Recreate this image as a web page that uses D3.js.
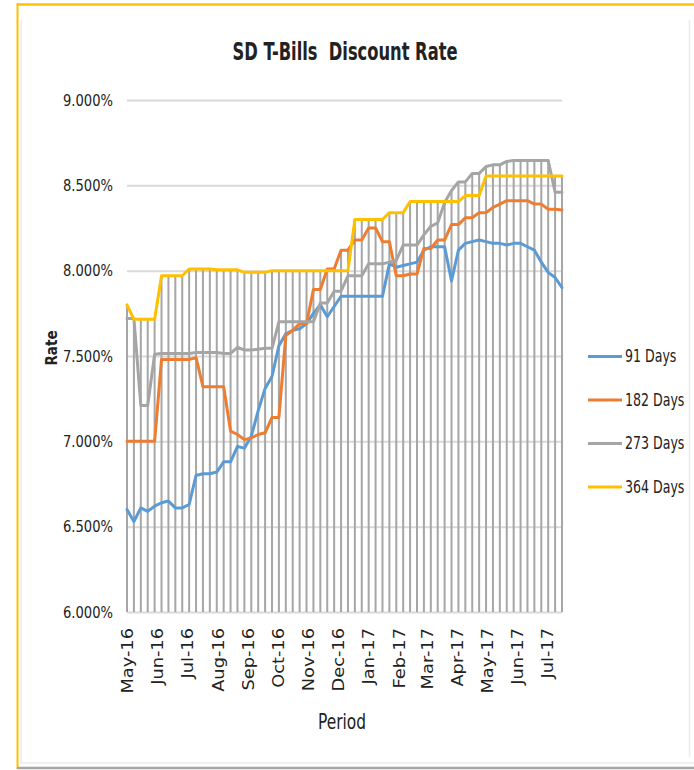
<!DOCTYPE html>
<html>
<head>
<meta charset="utf-8">
<script src="https://cdn.jsdelivr.net/npm/d3@7"></script>
<style>
  body { margin: 0; background: #fff; }
  svg { display: block; }
  text { font-family: "Liberation Sans Narrow", "DejaVu Sans Condensed", "Liberation Sans", Arial, sans-serif; fill: #222; }
</style>
</head>
<body>
<script>
// weekly auction dates
var dates = [
	'2016-05-02', '2016-05-09', '2016-05-16', '2016-05-23', '2016-05-30', '2016-06-06', '2016-06-13', '2016-06-20',
	'2016-06-27', '2016-07-04', '2016-07-11', '2016-07-18', '2016-07-25', '2016-08-01', '2016-08-08', '2016-08-15',
	'2016-08-22', '2016-08-29', '2016-09-05', '2016-09-12', '2016-09-19', '2016-09-26', '2016-10-03', '2016-10-10',
	'2016-10-17', '2016-10-24', '2016-10-31', '2016-11-07', '2016-11-14', '2016-11-21', '2016-11-28', '2016-12-05',
	'2016-12-12', '2016-12-19', '2016-12-26', '2017-01-02', '2017-01-09', '2017-01-16', '2017-01-23', '2017-01-30',
	'2017-02-06', '2017-02-13', '2017-02-20', '2017-02-27', '2017-03-06', '2017-03-13', '2017-03-20', '2017-03-27',
	'2017-04-03', '2017-04-10', '2017-04-17', '2017-04-24', '2017-05-01', '2017-05-08', '2017-05-15', '2017-05-22',
	'2017-05-29', '2017-06-05', '2017-06-12', '2017-06-19', '2017-06-26', '2017-07-03', '2017-07-10', '2017-07-17'
];

var days91 = [
	6.60, 6.53, 6.61, 6.59, 6.62, 6.64, 6.65, 6.61, 6.61, 6.63, 6.80, 6.81, 6.81, 6.82, 6.88, 6.88,
	6.97, 6.96, 7.03, 7.18, 7.31, 7.38, 7.56, 7.63, 7.65, 7.66, 7.69, 7.75, 7.80, 7.73, 7.79, 7.85,
	7.85, 7.85, 7.85, 7.85, 7.85, 7.85, 8.04, 8.02, 8.03, 8.04, 8.05, 8.12, 8.14, 8.14, 8.14, 7.94,
	8.12, 8.16, 8.17, 8.18, 8.17, 8.16, 8.16, 8.15, 8.16, 8.16, 8.14, 8.12, 8.05, 7.99, 7.96, 7.90
];
var days182 = [
	7.00, 7.00, 7.00, 7.00, 7.00, 7.48, 7.48, 7.48, 7.48, 7.48, 7.49, 7.32, 7.32, 7.32, 7.32, 7.06,
	7.04, 7.01, 7.02, 7.04, 7.05, 7.14, 7.14, 7.62, 7.65, 7.69, 7.69, 7.89, 7.89, 8.01, 8.01, 8.12,
	8.12, 8.18, 8.18, 8.25, 8.25, 8.17, 8.17, 7.97, 7.97, 7.98, 7.98, 8.13, 8.13, 8.18, 8.18, 8.27,
	8.27, 8.31, 8.31, 8.34, 8.34, 8.37, 8.39, 8.41, 8.41, 8.41, 8.41, 8.39, 8.39, 8.36, 8.36, 8.355
];
var days273 = [
	7.72, 7.72, 7.21, 7.21, 7.51, 7.515, 7.515, 7.515, 7.515, 7.515, 7.52, 7.52, 7.52, 7.52, 7.515, 7.515,
	7.55, 7.535, 7.535, 7.54, 7.545, 7.545, 7.70, 7.70, 7.70, 7.70, 7.70, 7.70, 7.81, 7.81, 7.88, 7.88,
	7.97, 7.97, 7.97, 8.04, 8.04, 8.04, 8.05, 8.06, 8.15, 8.15, 8.15, 8.21, 8.26, 8.28, 8.40, 8.47,
	8.52, 8.52, 8.57, 8.57, 8.61, 8.62, 8.62, 8.64, 8.645, 8.645, 8.645, 8.645, 8.645, 8.645, 8.46, 8.46
];
var days364 = [
	7.80, 7.715, 7.715, 7.715, 7.715, 7.97, 7.97, 7.97, 7.97, 8.01, 8.01, 8.01, 8.01, 8.005, 8.005, 8.005,
	8.005, 7.99, 7.99, 7.99, 7.99, 8.00, 8.00, 8.00, 8.00, 8.00, 8.00, 8.00, 8.00, 8.00, 8.00, 8.00,
	8.00, 8.30, 8.30, 8.30, 8.30, 8.30, 8.34, 8.34, 8.34, 8.405, 8.405, 8.405, 8.405, 8.405, 8.405, 8.405,
	8.405, 8.44, 8.44, 8.44, 8.555, 8.555, 8.555, 8.555, 8.555, 8.555, 8.555, 8.555, 8.555, 8.555, 8.555, 8.555
];

var seriesNames = [ '91 Days', '182 Days', '273 Days', '364 Days' ];
var seriesColors = [ '#5B9BD5', '#ED7D31', '#A5A5A5', '#FFC000' ];

var yTicks = [ 6.0, 6.5, 7.0, 7.5, 8.0, 8.5, 9.0 ];
var monthTicks = [
	'2016-05-02', '2016-06-02', '2016-07-02', '2016-08-02', '2016-09-02', '2016-10-02', '2016-11-02', '2016-12-02',
	'2017-01-02', '2017-02-02', '2017-03-02', '2017-04-02', '2017-05-02', '2017-06-02', '2017-07-02'
];
var monthLabels = [
	'May-16', 'Jun-16', 'Jul-16', 'Aug-16', 'Sep-16', 'Oct-16', 'Nov-16', 'Dec-16',
	'Jan-17', 'Feb-17', 'Mar-17', 'Apr-17', 'May-17', 'Jun-17', 'Jul-17'
];

var width = 694, height = 770;
var plot = { left: 127, right: 562, top: 100, bottom: 612 };

var parse = d3.utcParse( '%Y-%m-%d' );
var allSeries = [ days91, days182, days273, days364 ];

var rows = dates.map( function ( d, i ) {
	return {
		date: parse( d ),
		vals: allSeries.map( function ( s ) { return s[i]; } )
	};
} );

var svg = d3.select( 'body' ).append( 'svg' )
	.attr( 'width', width )
	.attr( 'height', height );

// outer frame
svg.append( 'rect' ).attr( 'x', 0 ).attr( 'y', 0 ).attr( 'width', width ).attr( 'height', height ).attr( 'fill', '#fff' );
svg.append( 'line' ).attr( 'x1', 17 ).attr( 'x2', width ).attr( 'y1', 4.5 ).attr( 'y2', 4.5 ).attr( 'stroke', '#FFC000' ).attr( 'stroke-width', 2.5 );
svg.append( 'line' ).attr( 'x1', 17.5 ).attr( 'x2', 17.5 ).attr( 'y1', 3 ).attr( 'y2', 769 ).attr( 'stroke', '#FFC000' ).attr( 'stroke-width', 2 );
svg.append( 'line' ).attr( 'x1', 17 ).attr( 'x2', width ).attr( 'y1', 768 ).attr( 'y2', 768 ).attr( 'stroke', '#A6A6A6' ).attr( 'stroke-width', 2.5 );
svg.append( 'path' )
	.attr( 'd', 'M21,20 V763 H694 M689.5,20 V757' )
	.attr( 'fill', 'none' )
	.attr( 'stroke', '#ECECEC' )
	.attr( 'stroke-width', 1.5 );

var x = d3.scaleUtc()
	.domain( d3.extent( rows, function ( d ) { return d.date; } ) )
	.range( [ plot.left, plot.right ] );

var y = d3.scaleLinear()
	.domain( [ 6, 9 ] )
	.range( [ plot.bottom, plot.top ] );

// gridlines + y labels
var yAxis = d3.axisLeft( y )
	.tickValues( yTicks )
	.tickSize( -( plot.right - plot.left ) )
	.tickPadding( 14 )
	.tickFormat( function ( d ) { return d3.format( '.3f' )( d ) + '%'; } );

var gy = svg.append( 'g' )
	.attr( 'transform', 'translate(' + plot.left + ',0)' )
	.call( yAxis );
gy.select( '.domain' ).remove();
gy.selectAll( '.tick line' ).attr( 'stroke', '#D9D9D9' ).attr( 'stroke-width', 2 );
gy.selectAll( '.tick text' )
	.attr( 'font-size', 14 )
	.attr( 'textLength', 50 )
	.attr( 'lengthAdjust', 'spacingAndGlyphs' )
	.attr( 'transform', 'scale(1,1.15)' )
	.attr( 'fill', '#222' );

// drop lines from the highest series down to the axis
svg.append( 'g' ).selectAll( 'line' )
	.data( rows )
	.join( 'line' )
	.attr( 'x1', function ( d ) { return x( d.date ); } )
	.attr( 'x2', function ( d ) { return x( d.date ); } )
	.attr( 'y1', function ( d ) { return y( d3.max( d.vals ) ); } )
	.attr( 'y2', y( 6 ) )
	.attr( 'stroke', '#A6A6A6' )
	.attr( 'stroke-width', 2 );

// series
var line = d3.line()
	.x( function ( d ) { return x( d.date ); } );

allSeries.forEach( function ( s, k ) {
	line.y( function ( d ) { return y( d.vals[k] ); } );
	svg.append( 'path' )
		.datum( rows )
		.attr( 'd', line )
		.attr( 'fill', 'none' )
		.attr( 'stroke', seriesColors[k] )
		.attr( 'stroke-width', 3 )
		.attr( 'stroke-linejoin', 'round' )
		.attr( 'stroke-linecap', 'round' );
} );

// x axis labels, stretched along the text like the original
var stretch = 1.32;
var xAxis = d3.axisBottom( x )
	.tickValues( monthTicks.map( parse ) )
	.tickSize( 0 )
	.tickFormat( function ( d, i ) { return monthLabels[i]; } );

var gx = svg.append( 'g' )
	.attr( 'transform', 'translate(0,' + plot.bottom + ')' )
	.call( xAxis );
gx.select( '.domain' ).remove();
gx.selectAll( '.tick text' )
	.attr( 'font-size', 15 )
	.attr( 'fill', '#222' )
	.attr( 'text-anchor', 'end' )
	.attr( 'transform', 'rotate(-90) scale(' + stretch + ',1)' )
	.attr( 'x', -16 / stretch )
	.attr( 'y', 0 )
	.attr( 'dy', '0.35em' );

// titles
svg.append( 'text' )
	.attr( 'x', 345 )
	.attr( 'y', 60 )
	.attr( 'text-anchor', 'middle' )
	.attr( 'font-size', 24 )
	.attr( 'font-weight', 'bold' )
	.attr( 'textLength', 225 )
	.attr( 'lengthAdjust', 'spacingAndGlyphs' )
	.style( 'white-space', 'pre' )
	.text( 'SD T-Bills  Discount Rate' );

svg.append( 'text' )
	.attr( 'transform', 'translate(57,348) rotate(-90)' )
	.attr( 'text-anchor', 'middle' )
	.attr( 'font-size', 15 )
	.attr( 'font-weight', 'bold' )
	.text( 'Rate' );

svg.append( 'text' )
	.attr( 'transform', 'translate(342,729) scale(1,1.3)' )
	.attr( 'text-anchor', 'middle' )
	.attr( 'font-size', 16 )
	.attr( 'textLength', 48 )
	.attr( 'lengthAdjust', 'spacingAndGlyphs' )
	.text( 'Period' );

// legend
var legend = svg.append( 'g' ).selectAll( 'g' )
	.data( seriesNames )
	.join( 'g' )
	.attr( 'transform', function ( d, i ) { return 'translate(588,' + ( 356.5 + i * 43.5 ) + ')'; } );

legend.append( 'line' )
	.attr( 'x1', 0 ).attr( 'x2', 34 )
	.attr( 'stroke', function ( d, i ) { return seriesColors[i]; } )
	.attr( 'stroke-width', 3 );

legend.append( 'text' )
	.attr( 'x', 37 )
	.attr( 'dy', '0.35em' )
	.attr( 'font-size', 14 )
	.attr( 'transform', 'scale(1,1.2)' )
	.text( function ( d ) { return d; } );
</script>
</body>
</html>
